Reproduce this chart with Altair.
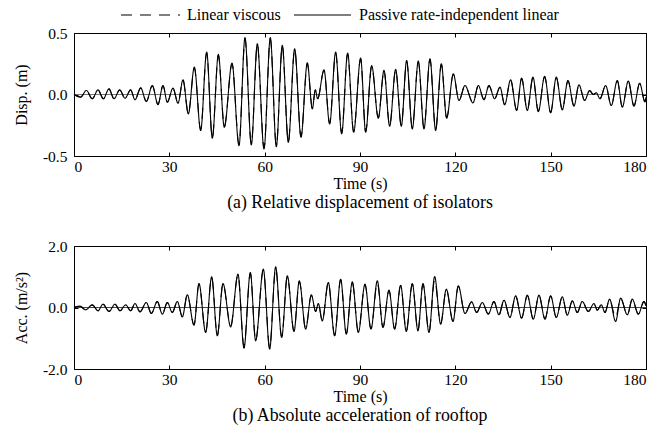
import altair as alt
import pandas as pd

FONT = "Liberation Serif"
series_names = ["Linear viscous", "Passive rate-independent linear"]
x_ticks = [0, 30, 60, 90, 120, 150, 180]
disp_ticks = [-0.5, 0.0, 0.5]
acc_ticks = [-2.0, 0.0, 2.0]

# (a) relative displacement of isolators (m): successive extrema
disp_time = [0, 2.10, 3.88, 5.77, 7.55, 9.23, 11.01, 12.59, 14.37, 16.05,
             17.83, 19.19, 20.98, 22.76, 24.65, 26.43, 28.0, 29.37, 31.15, 32.73,
             34.30, 35.98, 37.87, 39.86, 41.75, 43.53, 45.42, 47.30, 49.72, 51.92,
             53.81, 55.80, 57.69, 59.79, 61.78, 63.67, 65.55, 67.44, 69.44, 71.43,
             73.42, 75.0, 75.94, 76.67, 78.67, 80.45, 82.34, 84.23, 86.11, 88.0,
             90.20, 91.78, 93.67, 95.76, 97.55, 99.33, 101.22, 103.0, 104.68, 106.46,
             108.35, 110.13, 112.02, 113.80, 115.59, 117.27, 119.36, 121.15, 123.03, 125.55,
             127.23, 129.01, 130.58, 132.37, 134.05, 135.52, 137.40, 139.29, 140.86, 142.65,
             144.43, 146.11, 148.10, 149.99, 151.77, 153.66, 155.44, 157.33, 158.90, 160.69,
             162.26, 163.42, 164.36, 165.51, 167.30, 169.08, 170.97, 172.54, 174.43, 176.21,
             178.0, 179.67, 180.0]
disp_passive = [0, -0.022, 0.033, -0.035, 0.038, -0.035, 0.046, -0.035, 0.038, -0.030,
                0.038, -0.043, 0.054, -0.057, 0.073, -0.082, 0.073, -0.063, 0.052, -0.071,
                0.120, -0.158, 0.223, -0.293, 0.345, -0.356, 0.326, -0.266, 0.255, -0.416,
                0.462, -0.410, 0.413, -0.443, 0.462, -0.424, 0.400, -0.389, 0.372, -0.348,
                0.258, -0.117, 0.038, -0.035, 0.200, -0.240, 0.345, -0.320, 0.337, -0.307,
                0.296, -0.307, 0.236, -0.193, 0.196, -0.258, 0.204, -0.258, 0.277, -0.280,
                0.272, -0.280, 0.291, -0.293, 0.250, -0.193, 0.168, -0.049, 0.073, -0.068,
                0.073, -0.043, 0.073, -0.035, 0.060, -0.084, 0.120, -0.130, 0.133, -0.130,
                0.141, -0.139, 0.147, -0.149, 0.141, -0.125, 0.114, -0.095, 0.079, -0.049,
                0.033, 0.000, 0.014, -0.035, 0.073, -0.090, 0.114, -0.103, 0.110, -0.095,
                0.092, -0.060, -0.020]
disp_viscous = [0, -0.020, 0.031, -0.034, 0.037, -0.034, 0.044, -0.034, 0.037, -0.029,
                0.037, -0.042, 0.052, -0.055, 0.071, -0.080, 0.071, -0.061, 0.050, -0.069,
                0.116, -0.152, 0.216, -0.285, 0.336, -0.348, 0.318, -0.259, 0.248, -0.405,
                0.452, -0.401, 0.404, -0.433, 0.452, -0.414, 0.391, -0.380, 0.364, -0.340,
                0.251, -0.112, 0.036, -0.033, 0.195, -0.234, 0.337, -0.312, 0.329, -0.300,
                0.289, -0.300, 0.230, -0.188, 0.191, -0.252, 0.199, -0.252, 0.270, -0.273,
                0.265, -0.273, 0.284, -0.286, 0.244, -0.188, 0.163, -0.046, 0.070, -0.065,
                0.070, -0.041, 0.070, -0.033, 0.058, -0.081, 0.116, -0.126, 0.129, -0.126,
                0.137, -0.135, 0.143, -0.145, 0.137, -0.121, 0.110, -0.092, 0.076, -0.047,
                0.031, 0.000, 0.013, -0.033, 0.070, -0.087, 0.110, -0.100, 0.107, -0.092,
                0.089, -0.058, -0.019]

# (b) absolute acceleration of rooftop (m/s^2): successive extrema
acc_time = [0, 1.89, 3.67, 5.77, 7.55, 9.13, 11.01, 12.90, 14.47, 16.26,
            17.83, 19.19, 20.77, 22.76, 24.33, 26.22, 27.80, 29.37, 30.94, 32.51,
            34.09, 35.66, 37.76, 39.33, 41.43, 43.32, 45.10, 46.88, 49.30, 51.60,
            53.49, 55.49, 57.16, 59.58, 61.57, 63.46, 65.35, 67.13, 69.23, 70.90,
            72.90, 74.68, 76.05, 76.88, 78.14, 80.03, 82.02, 83.91, 85.69, 87.58,
            89.47, 91.57, 93.45, 95.45, 97.23, 99.12, 100.90, 102.79, 104.57, 106.46,
            108.24, 109.82, 111.71, 113.49, 115.38, 117.16, 119.26, 120.93, 123.03, 125.13,
            126.70, 128.49, 130.37, 132.16, 133.73, 135.31, 137.19, 138.98, 140.86, 142.65,
            144.53, 146.32, 148.21, 149.99, 151.77, 153.66, 155.23, 156.81, 158.38, 159.95,
            161.84, 163.63, 164.67, 165.93, 167.09, 168.55, 170.44, 172.02, 174.12, 175.69,
            177.57, 179.36, 180.0]
acc_passive = [0, 0.043, -0.076, 0.087, -0.108, 0.108, -0.130, 0.108, -0.108, 0.087,
               -0.108, 0.130, -0.141, 0.163, -0.195, 0.195, -0.217, 0.163, -0.163, 0.195,
               -0.304, 0.412, -0.575, 0.780, -0.813, 0.997, -0.921, 0.780, -0.629, 1.084,
               -1.320, 1.138, -1.084, 1.247, -1.355, 1.323, -0.976, 1.030, -0.780, 0.867,
               -0.705, 0.412, -0.130, 0.130, -0.434, 0.813, -0.921, 0.921, -0.867, 0.835,
               -0.813, 0.759, -0.705, 0.867, -0.650, 0.564, -0.705, 0.726, -0.780, 0.780,
               -0.759, 0.780, -0.813, 1.008, -0.542, 0.596, -0.455, 0.705, -0.195, 0.184,
               -0.163, 0.163, -0.217, 0.195, -0.238, 0.238, -0.325, 0.379, -0.347, 0.401,
               -0.379, 0.401, -0.379, 0.379, -0.325, 0.347, -0.249, 0.217, -0.163, 0.195,
               -0.130, 0.130, -0.087, 0.087, -0.163, 0.271, -0.455, 0.304, -0.238, 0.271,
               -0.217, 0.195, 0.054]
acc_viscous = [0, 0.040, -0.072, 0.083, -0.104, 0.104, -0.125, 0.104, -0.104, 0.083,
               -0.104, 0.125, -0.136, 0.158, -0.188, 0.190, -0.210, 0.158, -0.158, 0.190,
               -0.295, 0.400, -0.560, 0.760, -0.795, 0.975, -0.900, 0.765, -0.600, 1.060,
               -1.250, 1.110, -1.060, 1.215, -1.300, 1.280, -0.950, 1.005, -0.760, 0.845,
               -0.690, 0.400, -0.125, 0.125, -0.420, 0.795, -0.900, 0.900, -0.845, 0.800,
               -0.795, 0.740, -0.690, 0.800, -0.635, 0.550, -0.690, 0.710, -0.760, 0.760,
               -0.740, 0.760, -0.795, 0.900, -0.530, 0.580, -0.440, 0.690, -0.188, 0.178,
               -0.158, 0.158, -0.210, 0.190, -0.232, 0.232, -0.318, 0.370, -0.340, 0.392,
               -0.370, 0.392, -0.370, 0.370, -0.318, 0.340, -0.243, 0.210, -0.158, 0.190,
               -0.125, 0.125, -0.083, 0.083, -0.158, 0.262, -0.330, 0.296, -0.232, 0.262,
               -0.210, 0.190, 0.052]


def long_df(time, viscous, passive):
    n = len(time)
    return pd.DataFrame({
        "t": list(time) * 2,
        "v": list(viscous) + list(passive),
        "series": [series_names[0]] * n + [series_names[1]] * n,
    })


neg_label = ("datum.value < 0 ? '-' + format(-datum.value, '.1f') "
             ": format(datum.value, '.1f')")
W, H = 572, 123
DASH = [11, 8]


def panel(df, ytitle, ydomain, yticks, caption, zero_color, with_legend):
    xs = alt.Scale(domain=[0, 180], nice=False, zero=False)
    ys = alt.Scale(domain=ydomain, nice=False, zero=False)
    x_bottom = alt.Axis(values=x_ticks, format="d", orient="bottom", domain=False,
                        ticks=True, tickSize=4, offset=-4, tickColor="black",
                        labelPadding=3, labelFont=FONT, labelFontSize=15.5,
                        labelColor="black", title="Time (s)", titleFont=FONT,
                        titleFontSize=16, titleFontWeight="normal",
                        titleColor="black", titlePadding=1, grid=False)
    y_left = alt.Axis(values=yticks, labelExpr=neg_label, orient="left",
                      domain=False, ticks=True, tickSize=4, offset=-4,
                      tickColor="black", labelPadding=7, labelFont=FONT,
                      labelFontSize=15.5, labelColor="black", title=ytitle,
                      titleFont=FONT, titleFontSize=16, titleFontWeight="normal",
                      titleColor="black", titlePadding=13, grid=False)
    x_top = alt.Axis(values=x_ticks, orient="top", domain=False, labels=False,
                     ticks=True, tickSize=4, offset=-4, tickColor="black",
                     title=None, grid=False)
    y_right = alt.Axis(values=yticks, orient="right", domain=False, labels=False,
                       ticks=True, tickSize=4, offset=-4, tickColor="black",
                       title=None, grid=False)
    dash = alt.StrokeDash("series:N",
                          scale=alt.Scale(domain=series_names, range=[DASH, [1, 0]]),
                          legend=None)
    lines = alt.Chart(df).mark_line(color="black", strokeWidth=1.1,
                                    interpolate="monotone").encode(
        x=alt.X("t:Q", scale=xs, axis=x_bottom),
        y=alt.Y("v:Q", scale=ys, axis=y_left),
        strokeDash=dash,
    )
    zero = alt.Chart(pd.DataFrame({"v": [0.0]})).mark_rule(
        color=zero_color, strokeWidth=0.9).encode(y=alt.Y("v:Q", scale=ys, axis=None))
    frame_ticks = alt.Chart(df).mark_point(opacity=0).encode(
        x=alt.X("t:Q", scale=xs, axis=x_top),
        y=alt.Y("v:Q", scale=ys, axis=y_right),
    )
    layers = [zero, lines, frame_ticks]
    if with_legend:
        # legend drawn above the first panel
        ly = -18
        entries = [(series_names[0], DASH, 47, 106, 113),
                   (series_names[1], [1, 0], 220, 277, 285)]
        for name, dsh, x0, x1, xt in entries:
            one = alt.Chart(pd.DataFrame({"label": [name]}))
            layers.append(one.mark_rule(color="black", strokeWidth=1.1,
                                        strokeDash=dsh).encode(
                x=alt.value(x0), x2=alt.value(x1), y=alt.value(ly)))
            layers.append(one.mark_text(font=FONT, fontSize=16, color="black",
                                        align="left", baseline="middle").encode(
                text="label:N", x=alt.value(xt), y=alt.value(ly)))
    return alt.layer(*layers).resolve_axis(
        x="independent", y="independent").properties(
        width=W, height=H,
        title=alt.TitleParams(text=caption, orient="bottom", font=FONT, fontSize=17.8,
                              fontWeight="normal", color="black", offset=2))


top = panel(long_df(disp_time, disp_viscous, disp_passive), "Disp. (m)", [-0.5, 0.5],
            disp_ticks, "(a) Relative displacement of isolators", "#666666", True)
bottom = panel(long_df(acc_time, acc_viscous, acc_passive), "Acc. (m/s²)", [-2.0, 2.0],
               acc_ticks, "(b) Absolute acceleration of rooftop", "#333333", False)

chart = alt.vconcat(top, bottom, spacing=26).configure_view(
    stroke="black", strokeWidth=1).properties(
    padding={"left": 12, "top": 6, "right": 0, "bottom": 0})

chart.save("out.html", embed_options={"renderer": "svg", "actions": False})
